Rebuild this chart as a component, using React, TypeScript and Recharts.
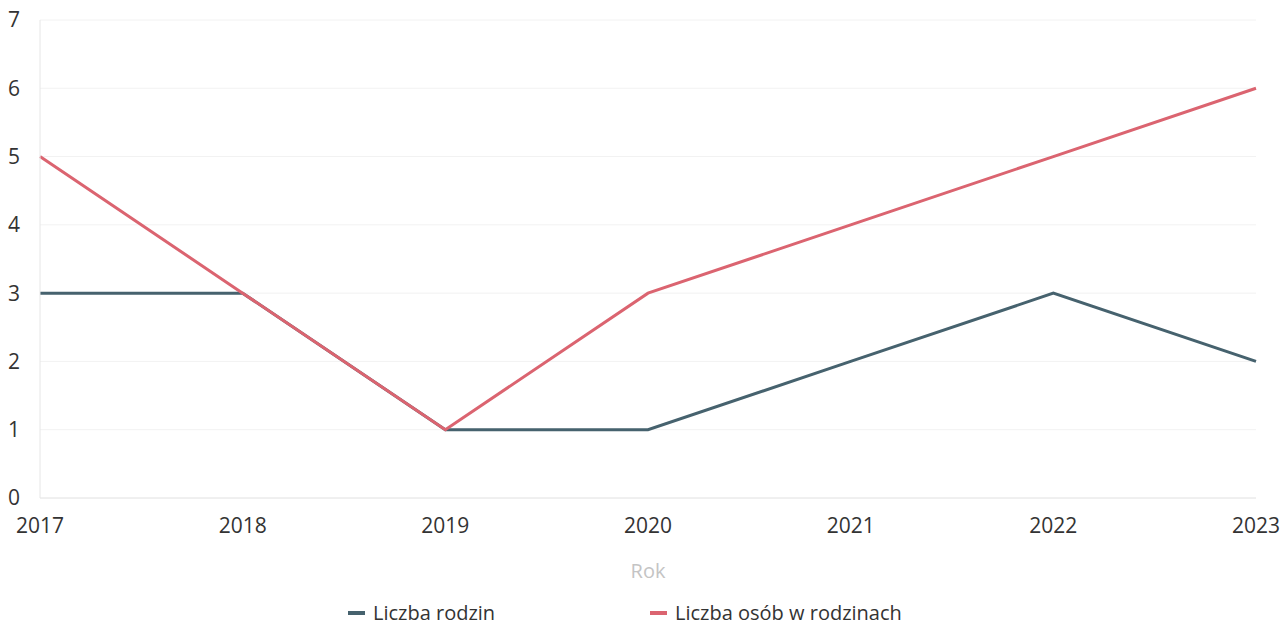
import { LineChart, Line, XAxis, YAxis, CartesianGrid, Legend } from "recharts";

const years = ["2017", "2018", "2019", "2020", "2021", "2022", "2023"];
const families = [3, 3, 1, 1, 2, 3, 2];
const persons = [5, 3, 1, 3, 4, 5, 6];
const yTicks = [0, 1, 2, 3, 4, 5, 6, 7];

const data = years.map((year, i) => ({
  year,
  families: families[i],
  persons: persons[i],
}));

const FONT = "'Open Sans', sans-serif";

const seriesInfo = [
  { key: "families", name: "Liczba rodzin", color: "#46626e" },
  { key: "persons", name: "Liczba osób w rodzinach", color: "#db6470" },
];

function LegendBox() {
  return (
    <div
      style={{
        display: "flex",
        justifyContent: "center",
        fontFamily: FONT,
        fontSize: 20,
        color: "#333",
        height: 24,
        lineHeight: "24px",
        paddingLeft: 2,
      }}
    >
      {seriesInfo.map((s, i) => (
        <div key={s.key} style={{ display: "flex", alignItems: "center", width: i === 0 ? 302 : 260 }}>
          <span style={{ display: "inline-block", width: 17, height: 4, background: s.color, marginRight: 8 }} />
          <span>{s.name}</span>
        </div>
      ))}
    </div>
  );
}

export default function App() {
  return (
    <div style={{ position: "absolute", left: 0, top: 0, background: "#fff" }}>
      <LineChart width={1282} height={625} data={data} margin={{ top: 20, right: 26, left: 0, bottom: 0 }}>
        <CartesianGrid vertical={false} stroke="#f2f2f2" />
        <XAxis
          dataKey="year"
          tickLine={false}
          axisLine={{ stroke: "#e6e6e6" }}
          tick={{ fill: "#333", fontSize: 21, fontFamily: FONT }}
          tickMargin={14}
          interval={0}
          height={103}
          label={{ value: "Rok", position: "insideBottom", offset: 23, fill: "#c4c4c4", fontSize: 20, fontFamily: FONT }}
        />
        <YAxis
          domain={[0, 7]}
          ticks={yTicks}
          width={40}
          tickLine={false}
          axisLine={{ stroke: "#e6e6e6" }}
          tick={{ fill: "#333", fontSize: 21, fontFamily: FONT }}
          tickMargin={14}
        />
        <Legend verticalAlign="bottom" height={24} content={() => <LegendBox />} />
        {seriesInfo.map((s) => (
          <Line
            key={s.key}
            type="linear"
            dataKey={s.key}
            name={s.name}
            stroke={s.color}
            strokeWidth={3}
            dot={false}
            activeDot={false}
            isAnimationActive={false}
          />
        ))}
      </LineChart>
    </div>
  );
}
